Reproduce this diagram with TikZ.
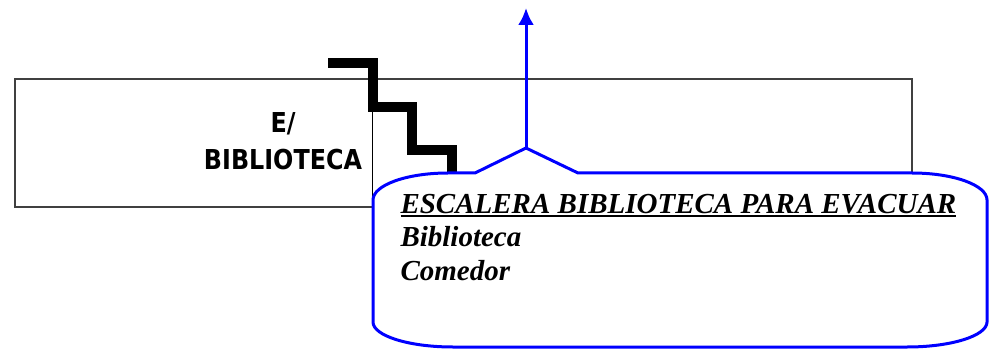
\documentclass[tikz,border=0pt]{standalone}
\usepackage{graphicx}
\usepackage{fontspec}
\usetikzlibrary{arrows.meta}
\newfontfamily\planfont{DejaVu Sans}
\newfontfamily\notefont{Liberation Serif}
\newcommand{\ulbar}[1]{\setbox0\hbox{#1}\rlap{\rule[-4bp]{\wd0}{2bp}}\box0}
\begin{document}
\begin{tikzpicture}[>={Latex[length=17bp,width=16bp]},line join=miter,x=1bp,y=1bp]
  \pgfsetlinewidth{1bp}
  \useasboundingbox (0,0) rectangle (1001,349);
%%
  % Node: biblio
\begin{scope}
  \definecolor{strokecol}{rgb}{0.25,0.25,0.25}
  \node[draw=strokecol, line width=1.3bp, minimum width=897bp, minimum height=128bp, inner sep=0pt] (biblio) at (463.5bp,206bp) {};
  \coordinate (div) at (372bp,0bp);
  \draw[black] (biblio.south -| div) -- (biblio.north -| div);
  \node[inner sep=0pt] (lbl) at (283bp,205bp) {\scalebox{0.87}[1]{\planfont\bfseries\fontsize{27.4bp}{37bp}\selectfont
						\begin{tabular}{@{}c@{}}
						E/ \\ BIBLIOTECA
						\end{tabular}}};
\end{scope}
  % Stair
  \draw[black, line width=10bp] (328bp,286bp) -- (373bp,286bp) -- (373bp,242bp) -- (412bp,242bp) -- (412bp,199bp) -- (452bp,199bp) -- (452bp,176bp);
  % Node: callout
\begin{scope}
  \coordinate (apex) at (526bp,201bp);
  \coordinate (salida) at (526bp,341bp);
  \draw[blue, line width=3bp, fill=white] (373bp,149bp) arc[start angle=180, end angle=90, x radius=75bp, y radius=27bp]
    -- (475bp,176bp) -- (apex) -- (578bp,176bp) -- (912bp,176bp)
    arc[start angle=90, end angle=0, x radius=75bp, y radius=27bp]
    -- (987bp,27bp) arc[start angle=0, end angle=-90, x radius=80bp, y radius=25bp]
    -- (453bp,2bp) arc[start angle=270, end angle=180, x radius=80bp, y radius=25bp] -- cycle;
  \node[anchor=base west, align=left, inner sep=0pt, font=\notefont\bfseries\itshape\fontsize{29bp}{33.5bp}\selectfont] (escalera) at (400bp,69bp)
    {\ulbar{ESCALERA BIBLIOTECA PARA EVACUAR}\\Biblioteca\\Comedor};
\end{scope}
  % Edge: apex -> salida
  \draw [->, blue, line width=3bp] (apex) -- (salida);
%
\end{tikzpicture}
\end{document}
